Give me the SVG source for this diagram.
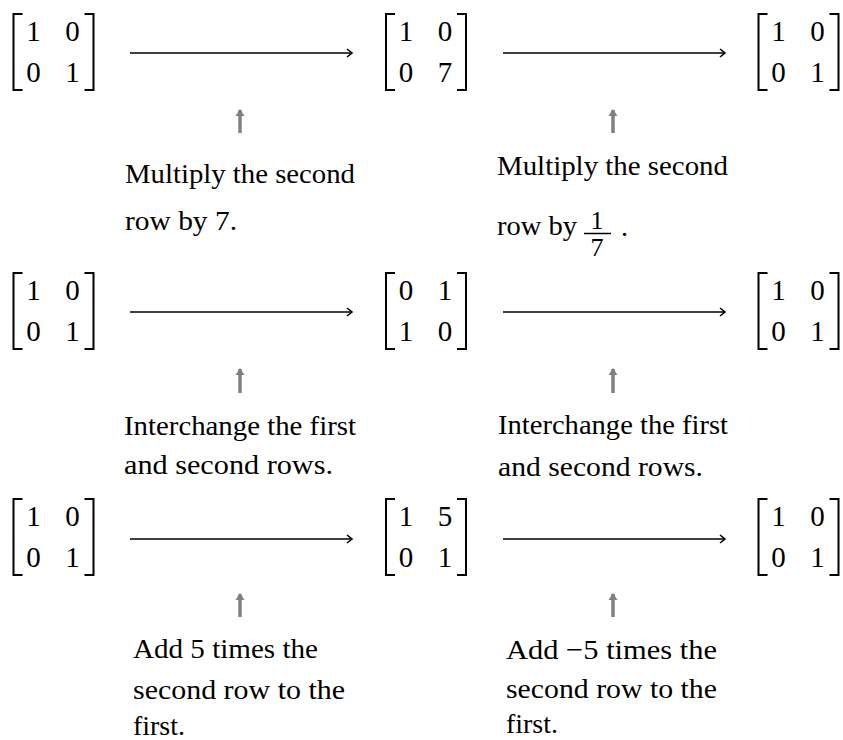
<svg xmlns="http://www.w3.org/2000/svg" xmlns:xlink="http://www.w3.org/1999/xlink" width="843" height="740" viewBox="0 0 843 740" font-family="Liberation Serif, DejaVu Serif, Times New Roman, Times, serif">
<style>
  .br { fill: none; stroke: #000; stroke-width: 2; }
  .dg { font-size: 29px; fill: #000; text-anchor: middle; }
  .lb { font-size: 28px; fill: #000; }
  .fr { font-size: 26px; fill: #000; text-anchor: middle; }
  .ha { stroke: #000; stroke-width: 1.6; fill: none; }
  .ua { stroke: #808080; stroke-width: 3.5; fill: none; }
</style>
<defs>
  <marker id="chev" markerUnits="userSpaceOnUse" markerWidth="12" markerHeight="12" refX="10" refY="6" orient="auto" overflow="visible">
    <path d="M5,2 L10,6 L5,10" fill="none" stroke="#000" stroke-width="1.6"/>
  </marker>
  <marker id="tri" markerUnits="userSpaceOnUse" markerWidth="12" markerHeight="12" refX="6" refY="6" orient="auto" overflow="visible">
    <path d="M0,1.5 L7,6 L0,10.5 Z" fill="#808080"/>
  </marker>
  <g id="brackets">
    <path class="br" d="M10,0 H1 V76 H10"/>
    <path class="br" d="M72,0 H81 V76 H72"/>
  </g>
</defs>

<!-- Row 1 -->
<g id="m1a" transform="translate(12.5,14)">
  <use xlink:href="#brackets"/>
  <text class="dg" x="21" y="27">1</text><text class="dg" x="60" y="27">0</text>
  <text class="dg" x="21" y="68">0</text><text class="dg" x="60" y="68">1</text>
</g>
<g id="m1b" transform="translate(385,14)">
  <use xlink:href="#brackets"/>
  <text class="dg" x="21" y="27">1</text><text class="dg" x="60" y="27">0</text>
  <text class="dg" x="21" y="68">0</text><text class="dg" x="60" y="68">7</text>
</g>
<g id="m1c" transform="translate(757.5,14)">
  <use xlink:href="#brackets"/>
  <text class="dg" x="21" y="27">1</text><text class="dg" x="60" y="27">0</text>
  <text class="dg" x="21" y="68">0</text><text class="dg" x="60" y="68">1</text>
</g>

<!-- Row 2 -->
<g id="m2a" transform="translate(12.5,273)">
  <use xlink:href="#brackets"/>
  <text class="dg" x="21" y="27">1</text><text class="dg" x="60" y="27">0</text>
  <text class="dg" x="21" y="68">0</text><text class="dg" x="60" y="68">1</text>
</g>
<g id="m2b" transform="translate(385,273)">
  <use xlink:href="#brackets"/>
  <text class="dg" x="21" y="27">0</text><text class="dg" x="60" y="27">1</text>
  <text class="dg" x="21" y="68">1</text><text class="dg" x="60" y="68">0</text>
</g>
<g id="m2c" transform="translate(757.5,273)">
  <use xlink:href="#brackets"/>
  <text class="dg" x="21" y="27">1</text><text class="dg" x="60" y="27">0</text>
  <text class="dg" x="21" y="68">0</text><text class="dg" x="60" y="68">1</text>
</g>

<!-- Row 3 -->
<g id="m3a" transform="translate(12.5,499)">
  <use xlink:href="#brackets"/>
  <text class="dg" x="21" y="27">1</text><text class="dg" x="60" y="27">0</text>
  <text class="dg" x="21" y="68">0</text><text class="dg" x="60" y="68">1</text>
</g>
<g id="m3b" transform="translate(385,499)">
  <use xlink:href="#brackets"/>
  <text class="dg" x="21" y="27">1</text><text class="dg" x="60" y="27">5</text>
  <text class="dg" x="21" y="68">0</text><text class="dg" x="60" y="68">1</text>
</g>
<g id="m3c" transform="translate(757.5,499)">
  <use xlink:href="#brackets"/>
  <text class="dg" x="21" y="27">1</text><text class="dg" x="60" y="27">0</text>
  <text class="dg" x="21" y="68">0</text><text class="dg" x="60" y="68">1</text>
</g>

<!-- Labels -->
<g id="l1a">
  <text class="lb" x="125" y="183" textLength="230" lengthAdjust="spacingAndGlyphs">Multiply the second</text>
  <text class="lb" x="125" y="230" textLength="112" lengthAdjust="spacingAndGlyphs">row by 7.</text>
</g>
<g id="l1b">
  <text class="lb" x="497" y="175" textLength="231" lengthAdjust="spacingAndGlyphs">Multiply the second</text>
  <text class="lb" x="497" y="235" textLength="80" lengthAdjust="spacingAndGlyphs">row by</text>
  <text class="fr" x="597" y="229">1</text>
  <line x1="584" y1="233.5" x2="611" y2="233.5" stroke="#000" stroke-width="1.5"/>
  <text class="fr" x="597" y="256">7</text>
  <text class="lb" x="621" y="236">.</text>
</g>
<g id="l2a">
  <text class="lb" x="124" y="435" textLength="232" lengthAdjust="spacingAndGlyphs">Interchange the first</text>
  <text class="lb" x="124" y="474" textLength="209" lengthAdjust="spacingAndGlyphs">and second rows.</text>
</g>
<g id="l2b">
  <text class="lb" x="498" y="434" textLength="230" lengthAdjust="spacingAndGlyphs">Interchange the first</text>
  <text class="lb" x="498" y="476" textLength="205" lengthAdjust="spacingAndGlyphs">and second rows.</text>
</g>
<g id="l3a">
  <text class="lb" x="133" y="658" textLength="185" lengthAdjust="spacingAndGlyphs">Add 5 times the</text>
  <text class="lb" x="133" y="699" textLength="212" lengthAdjust="spacingAndGlyphs">second row to the</text>
  <text class="lb" x="133" y="735" textLength="52" lengthAdjust="spacingAndGlyphs">first.</text>
</g>
<g id="l3b">
  <text class="lb" x="506" y="659" textLength="211" lengthAdjust="spacingAndGlyphs">Add −5 times the</text>
  <text class="lb" x="506" y="698" textLength="211" lengthAdjust="spacingAndGlyphs">second row to the</text>
  <text class="lb" x="506" y="733" textLength="52" lengthAdjust="spacingAndGlyphs">first.</text>
</g>

<!-- Connectors -->
<g id="connectors">
  <line class="ha" x1="130" y1="53" x2="352" y2="53" marker-end="url(#chev)"/>
  <line class="ha" x1="503" y1="53" x2="725" y2="53" marker-end="url(#chev)"/>
  <line class="ha" x1="130" y1="312" x2="352" y2="312" marker-end="url(#chev)"/>
  <line class="ha" x1="503" y1="312" x2="725" y2="312" marker-end="url(#chev)"/>
  <line class="ha" x1="130" y1="539" x2="352" y2="539" marker-end="url(#chev)"/>
  <line class="ha" x1="503" y1="539" x2="725" y2="539" marker-end="url(#chev)"/>

  <line class="ua" x1="240" y1="133" x2="240" y2="110" marker-end="url(#tri)"/>
  <line class="ua" x1="613" y1="133" x2="613" y2="110" marker-end="url(#tri)"/>
  <line class="ua" x1="240" y1="393" x2="240" y2="369" marker-end="url(#tri)"/>
  <line class="ua" x1="613" y1="393" x2="613" y2="369" marker-end="url(#tri)"/>
  <line class="ua" x1="240" y1="617" x2="240" y2="594" marker-end="url(#tri)"/>
  <line class="ua" x1="613" y1="617" x2="613" y2="594" marker-end="url(#tri)"/>
</g>
</svg>
